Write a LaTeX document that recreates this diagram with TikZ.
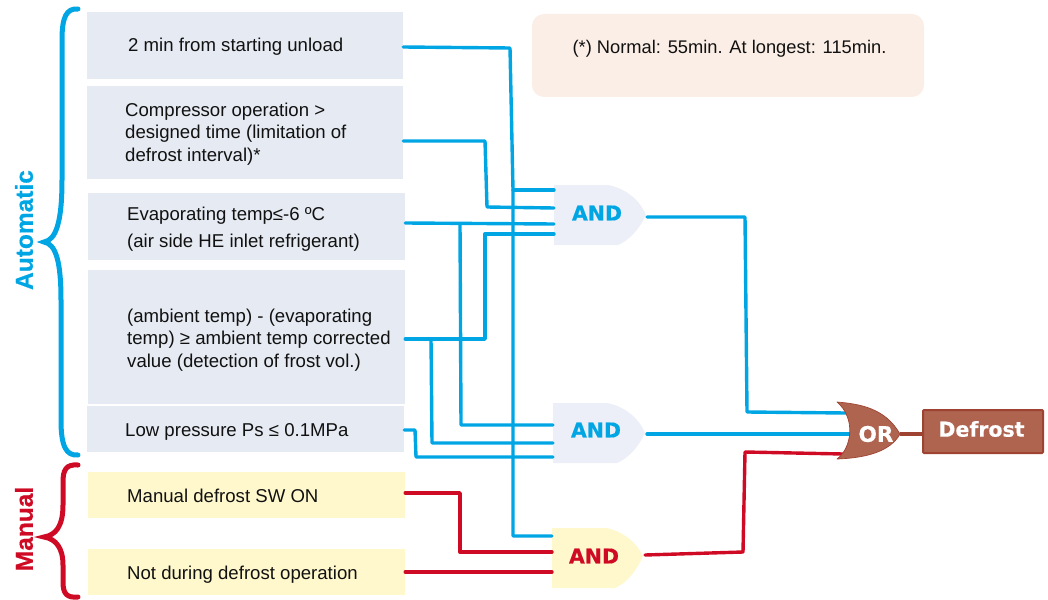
\documentclass[tikz,border=0pt]{standalone}
\usepackage{fontspec}
\setmainfont{Liberation Sans}
\newfontfamily\gatefont[BoldFeatures={FakeBold=0.5}]{DejaVu Sans}
\newfontfamily\sidefont[BoldFeatures={FakeBold=0.5}]{Liberation Sans}
\definecolor{wblue}{HTML}{00A5E3}
\definecolor{wred}{HTML}{CF0A24}
\definecolor{boxgrey}{HTML}{E6EAF2}
\definecolor{boxyellow}{HTML}{FFF8CC}
\definecolor{gategrey}{HTML}{ECEFF7}
\definecolor{notefill}{HTML}{FBEEE6}
\definecolor{orfill}{HTML}{AF6450}
\definecolor{orline}{HTML}{9E4332}
\definecolor{inktext}{HTML}{111111}
\tikzset{
  x=1pt,y=-1pt,
  greybox/.style={fill=boxgrey,draw=none,inner sep=0pt},
  yellowbox/.style={fill=boxyellow,draw=none,inner sep=0pt},
  boxtext/.style={anchor=west,inner sep=0pt,align=left,text=inktext,font=\fontsize{18.6}{22.2}\selectfont},
  linetext/.style={boxtext,anchor=base west},
  bw/.style={draw=wblue,line width=3.4pt,line join=round,line cap=round},
  rw/.style={draw=wred,line width=3.4pt,line join=round,line cap=round},
  gatelabel/.style={inner sep=0pt,font=\gatefont\bfseries\fontsize{20.5}{22}\selectfont},
  sidelabel/.style={rotate=90,inner sep=0pt,font=\sidefont\bfseries\fontsize{24.5}{26}\selectfont},
}
\begin{document}
\begin{tikzpicture}
\useasboundingbox (0,0) rectangle (1048,599);
% braces
\draw[wblue,line width=5pt,line cap=round] (78,9) .. controls (66,8) and (62,18) .. (62,40)
  -- (62,180) .. controls (62,222) and (56,240) .. (44,242)
  .. controls (56,244) and (61,262) .. (61,300) -- (61,420) .. controls (61,446) and (66,456) .. (78,455);
\draw[wred,line width=5pt,line cap=round] (78,465) .. controls (66,464) and (63,470) .. (63,482)
  -- (63,505) .. controls (63,526) and (56,535) .. (44,537)
  .. controls (56,539) and (63,548) .. (63,565) -- (63,582) .. controls (63,594) and (67,598) .. (78,597);
\node[sidelabel,text=wblue] (autolabel) at (24,230) {Automatic};
\node[sidelabel,text=wred] (manlabel) at (24,529) {Manual};
% boxes
\node[greybox,minimum width=316pt,minimum height=67pt] (b1) at (245,45.5) {};
\node[greybox,minimum width=316pt,minimum height=93pt] (b2) at (245,132.5) {};
\node[greybox,minimum width=317pt,minimum height=67pt] (b3) at (246.5,226.5) {};
\node[greybox,minimum width=317pt,minimum height=134pt] (b4) at (246.5,337) {};
\node[greybox,minimum width=317pt,minimum height=46pt] (b5) at (245.5,429) {};
\node[yellowbox,minimum width=317pt,minimum height=46pt] (b6) at (246.5,495) {};
\node[yellowbox,minimum width=317pt,minimum height=46pt] (b7) at (246.5,572) {};
\node[linetext] (t1) at (128,52) {2 min from starting unload};
\node[boxtext] (t2) at (125,134) {Compressor operation >\\designed time (limitation of\\defrost interval)*};
\node[boxtext] (t3) at (127,229) {Evaporating temp≤-6 ºC\\[5pt](air side HE inlet refrigerant)};
\node[boxtext] (t4) at (127,340) {(ambient temp) - (evaporating\\temp) ≥ ambient temp corrected\\value (detection of frost vol.)};
\node[linetext] (t5) at (125,436) {Low pressure Ps ≤ 0.1MPa};
\node[linetext] (t6) at (127,502) {Manual defrost SW ON};
\node[linetext] (t7) at (127,579) {Not during defrost operation};
\node[fill=notefill,rounded corners=12pt,minimum width=392pt,minimum height=83pt,inner sep=0pt] (note) at (728,55.5) {};
\node[inner sep=0pt,text=inktext,anchor=base,font=\fontsize{18.3}{20}\selectfont] (notetext) at (729.5,54) {(*) Normal: 55min. At longest: 115min.};
% gates
\fill[gategrey] (554,185) -- (608,185) .. controls (625,188) and (640,200) .. (646,215)
  .. controls (640,228) and (630,240) .. (618,245) -- (554,245) -- cycle;
\fill[gategrey] (553,403) -- (607,403) .. controls (624,406) and (639,418) .. (645,433)
  .. controls (639,446) and (629,458) .. (617,463) -- (553,463) -- cycle;
\fill[boxyellow] (552,528) -- (606,528) .. controls (623,531) and (637,543) .. (643,556)
  .. controls (637,570) and (627,583) .. (615,588) -- (552,588) -- cycle;
\node[gatelabel,text=wblue] (g1) at (597,213) {AND};
\node[gatelabel,text=wblue] (g2) at (596,430) {AND};
\node[gatelabel,text=wred] (g3) at (594,556) {AND};
% gate terminals
\coordinate (g1a) at (554,190);
\coordinate (g1b) at (554,208);
\coordinate (g1c) at (554,224);
\coordinate (g1d) at (554,234);
\coordinate (g1o) at (647,217);
\coordinate (g2a) at (553,425);
\coordinate (g2b) at (553,443);
\coordinate (g2c) at (553,457);
\coordinate (g2o) at (647,434);
\coordinate (g3a) at (552,536);
\coordinate (g3b) at (552,552);
\coordinate (g3c) at (552,572);
\coordinate (g3o) at (645,555);
\coordinate (ora) at (846,413);
\coordinate (orb) at (853,434);
\coordinate (orc) at (843,454);
% wires
\draw[bw] ([yshift=-1.5pt]b1.east) -- (510,48) -- (513,190) -- (513,536) -- (g3a);
\draw[bw] (513,190) -- (g1a);
\draw[bw] (b2.east |- 0,141) -- (485,141) -- (487,207) -- (g1b);
\draw[bw] (b3.east |- 0,223) -- (g1c);
\draw[bw] (460,224) -- (461,425) -- (g2a);
\draw[bw] (b4.east |- 0,339) -- (485,339) -- (485,234) -- (g1d);
\draw[bw] (431,339) -- (432,443) -- (g2b);
\draw[bw] (b5.east |- 0,430) -- (415,430) -- (416,457) -- (g2c);
\draw[rw] (b6.east |- 0,493) -- (460,493) -- (460,552) -- (g3b);
\draw[rw] (b7.east |- 0,572) -- (g3c);
\draw[bw] (g1o) -- (745,217) -- (747,412) -- (ora);
\draw[bw] (g2o) -- (orb);
\draw[rw] (g3o) -- (743,552) -- (745,452) -- (orc);
% OR gate
\filldraw[fill=orfill,draw=orline,line width=0.7pt,line join=round] (837,402)
  .. controls (860,404) and (885,408) .. (900,434)
  .. controls (890,452) and (865,458) .. (837,459)
  .. controls (852,448) and (856,418) .. (837,402) -- cycle;
\node[gatelabel,text=white,font=\gatefont\bfseries\fontsize{21.5}{22}\selectfont] (orgate) at (876,434) {OR};
\node[fill=orfill,draw=orline,line width=2pt,rounded corners=1pt,minimum width=120pt,minimum height=43pt,inner sep=0pt] (defrost) at (983,431.5) {};
\node[gatelabel,text=white] (deftext) at (981.5,429) {Defrost};
\draw[draw=orline,line width=4.5pt] (orgate.east -| 900,434) -- (defrost.west |- 0,434);
\end{tikzpicture}
\end{document}
